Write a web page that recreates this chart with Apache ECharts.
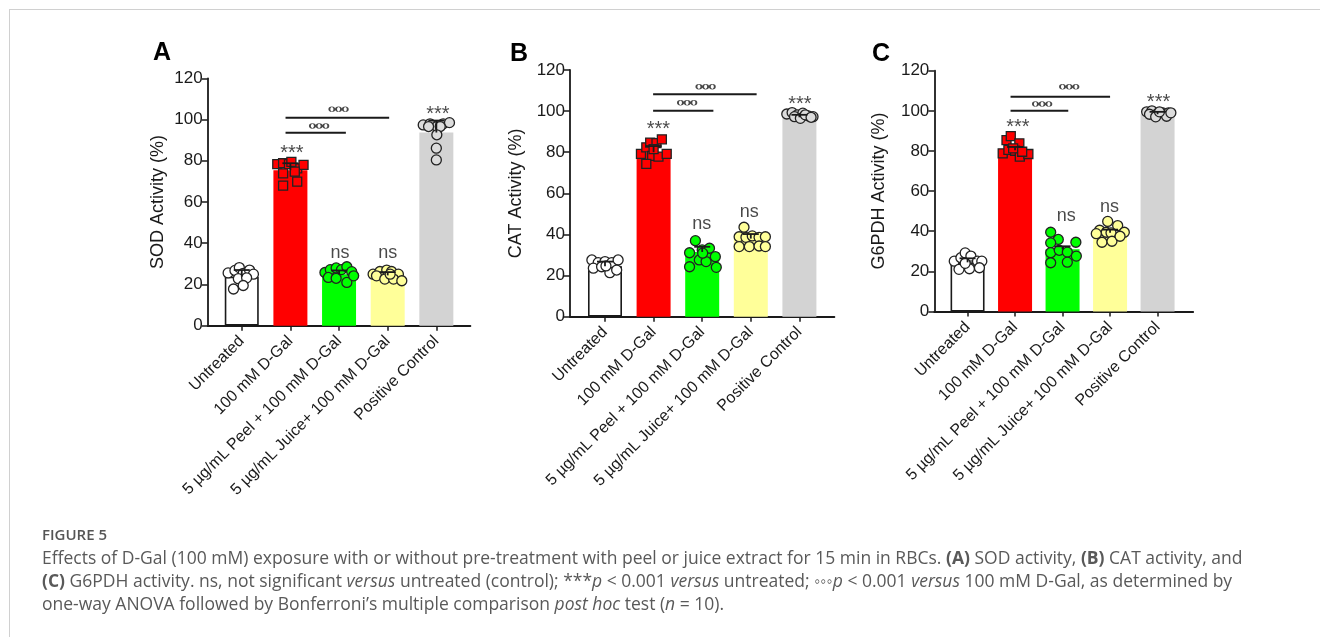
<!DOCTYPE html>
<html>
<head>
<meta charset="utf-8">
<title>Figure 5</title>
<script src="https://cdn.jsdelivr.net/npm/echarts@6/dist/echarts.min.js"></script>
<style>
html, body { margin: 0; padding: 0; background: #fff; }
#frame { position: absolute; left: 9px; top: 9px; width: 1311px; height: 628px; border-left: 1px solid #d0d0d0; border-top: 1px solid #d0d0d0; }
#chart { position: absolute; left: 0; top: 0; width: 1320px; height: 637px; }
</style>
</head>
<body>
<div id="frame"></div>
<div id="chart"></div>
<script>
// groups on the x axis (same for all panels)
var groups = ['Untreated', '100 mM D-Gal', '5 µg/mL Peel + 100 mM D-Gal', '5 µg/mL Juice+ 100 mM D-Gal', 'Positive Control'];
var barColors = ['#ffffff', '#ff0000', '#00ff00', '#ffff99', '#d3d3d3'];

// A - SOD
var sodMean = [23.8, 75.4, 24.9, 24.4, 93.7];
var sodSdTop = [27.0, 78.8, 26.8, 26.0, 99.5];
var sodPoints = [
  [[-0.28,25.6],[-0.14,26.8],[-0.05,28.2],[0.03,25.4],[0.16,27],[0.24,25],[-0.07,22.8],[0.1,23.2],[-0.17,17.8],[0.03,19.5]],
  [[-0.27,78.4],[-0.15,78.8],[-0.03,78.4],[0.14,76.3],[0.27,78],[-0.15,73.9],[0.09,74.7],[-0.15,67.9],[0.14,69.9],[0.02,79.5]],
  [[-0.29,25.8],[-0.18,27.2],[-0.06,28],[0.05,27.2],[0.16,28.6],[0.26,26.2],[-0.22,23.4],[-0.06,23],[0.16,21],[0.3,24.2]],
  [[-0.3,25],[-0.16,26.3],[-0.02,27],[0.08,26.3],[0.22,25],[-0.23,24.2],[-0.06,22.6],[0.12,22.6],[0.29,21.8],[0.05,25]],
  [[-0.27,97.4],[-0.13,97.9],[0.01,96.6],[0.14,97.9],[0.27,98.5],[-0.16,96.6],[0.08,96.6],[0.01,92.6],[0,86.1],[0,80.4]]
];
var sodBrackets = [[0.9, 2.14, 93.6], [0.9, 3.03, 100.9]];
var sodRings = [[1.59, 96.9], [1.99, 105]];
var sodMarks = [[1.03, 86.1, '***'], [4.03, 105, '***'], [2.02, 35.1, 'ns'], [3.0, 35.1, 'ns']];

// B - CAT
var catMean = [24.6, 80.0, 31.5, 38.0, 97.0];
var catSdTop = [26.8, 83.0, 34.0, 40.2, 98.2];
var catPoints = [
  [[-0.27,27.6],[-0.14,26.3],[0,26.8],[0.14,26.3],[0.27,27.6],[-0.24,23.6],[-0.07,24.3],[0.1,21.4],[0.24,22.7],[0.02,24.7]],
  [[-0.26,79.2],[-0.15,82.4],[-0.07,84.7],[0.06,84.4],[0.17,86.3],[-0.03,78.2],[0.1,77.9],[0.27,79.2],[-0.15,74.3],[0,81.5]],
  [[-0.26,31.1],[-0.14,37],[0,32.5],[0.15,33.3],[0.27,29.2],[-0.26,24.3],[-0.06,27.6],[0.08,26.8],[0.29,24],[0.01,30.9]],
  [[-0.14,43.5],[-0.24,38.9],[-0.1,38.6],[0.03,39.3],[0.17,38.6],[0.3,38.9],[-0.24,34.1],[-0.03,34.1],[0.17,34.4],[0.3,34.1]],
  [[-0.26,98.6],[-0.15,99.3],[-0.04,98.2],[0.07,99],[0.18,97.7],[0.28,97.3],[-0.1,97.3],[0.02,96.5],[0.12,98.2],[0.24,97]]
];
var catBrackets = [[0.99, 2.23, 100.2], [0.99, 3.12, 108.2]];
var catRings = [[1.69, 104.1], [2.07, 111.9]];
var catMarks = [[1.1, 93.6, '***'], [4.01, 105.8, '***'], [1.99, 45, 'ns'], [2.97, 50.8, 'ns']];

// C - G6PDH
var g6pdhMean = [24.5, 80.3, 31.0, 39.2, 98.3];
var g6pdhSdTop = [26.5, 82.0, 32.5, 40.8, 99.5];
var g6pdhPoints = [
  [[-0.28,25.1],[-0.14,26.8],[-0.05,29.2],[0.07,27.6],[0.21,25.1],[0.3,25.1],[-0.18,21],[0.04,21.3],[0.25,21.8],[-0.05,24]],
  [[-0.18,85.4],[-0.09,87.4],[0.09,83.8],[-0.26,78.8],[-0.14,80.5],[0,80.1],[0.1,77.2],[0.28,78.5],[-0.04,81.3],[0.15,79.6]],
  [[-0.25,39.5],[-0.09,35.9],[-0.25,34.2],[0.28,34.5],[-0.25,29.3],[-0.07,30.5],[0.1,29.6],[0.29,27.6],[-0.25,24.3],[0.1,24.6]],
  [[-0.05,44.9],[-0.22,40.5],[-0.08,39.5],[0.16,42.8],[0.3,39.5],[0.02,39.2],[-0.17,34.5],[0.04,35],[0.21,37.5],[-0.29,38.8]],
  [[-0.23,99.5],[-0.12,100],[0,98.7],[0.11,99],[0.23,99],[-0.17,98.3],[-0.04,97],[0.19,97.3],[0.04,99.5],[0.28,99]]
];
var g6pdhBrackets = [[0.905, 2.12, 100], [0.905, 3.0, 107]];
var g6pdhRings = [[1.57, 103.4], [2.14, 112]];
var g6pdhMarks = [[1.06, 94.1, '***'], [4.02, 106.7, '***'], [2.08, 47.7, 'ns'], [2.99, 52.2, 'ns']];

var yTicks = { min: 0, max: 120, interval: 20 };
var tickValues = [0, 1, 2, 3, 4];

var FONT = 'Liberation Sans';
var CAP = 'Open Sans';
var INK = '#1a1a1a';
var ringPath = 'path://M0,2.5a2.5,2.5 0 1,0 5,0a2.5,2.5 0 1,0 -5,0M6.7,2.5a2.5,2.5 0 1,0 5,0a2.5,2.5 0 1,0 -5,0M13.4,2.5a2.5,2.5 0 1,0 5,0a2.5,2.5 0 1,0 -5,0';

var panels = [
  { name: 'SOD Activity (%)', mean: sodMean, sd: sodSdTop, pts: sodPoints, br: sodBrackets, rings: sodRings, marks: sodMarks,
    grid: { left: 207.7, top: 78.3, width: 262.7, height: 247.4 }, xmin: -0.7, xmax: 4.7, gap: 41 },
  { name: 'CAT Activity (%)', mean: catMean, sd: catSdTop, pts: catPoints, br: catBrackets, rings: catRings, marks: catMarks,
    grid: { left: 570, top: 70, width: 264.4, height: 246.7 }, xmin: -0.72, xmax: 4.72, gap: 45 },
  { name: 'G6PDH Activity (%)', mean: g6pdhMean, sd: g6pdhSdTop, pts: g6pdhPoints, br: g6pdhBrackets, rings: g6pdhRings, marks: g6pdhMarks,
    grid: { left: 934.3, top: 70.7, width: 258.9, height: 240.8 }, xmin: -0.7, xmax: 4.75, gap: 46 }
];

var grids = [], xAxes = [], yAxes = [], series = [];

function errorItem(params, api) {
  var x = api.value(0);
  var p0 = api.coord([x, api.value(2)]);
  var p1 = api.coord([x, api.value(1)]);
  var st = { stroke: INK, lineWidth: 1.8 };
  return { type: 'group', children: [
    { type: 'line', shape: { x1: p0[0], y1: p0[1], x2: p1[0], y2: p1[1] }, style: st },
    { type: 'line', shape: { x1: p1[0] - 8, y1: p1[1], x2: p1[0] + 8, y2: p1[1] }, style: st }
  ] };
}

function bracketItem(params, api) {
  var a = api.coord([api.value(0), api.value(2)]);
  var b = api.coord([api.value(1), api.value(2)]);
  return { type: 'line', shape: { x1: a[0], y1: a[1], x2: b[0], y2: b[1] }, style: { stroke: INK, lineWidth: 2 } };
}

panels.forEach(function (p, k) {
  grids.push(p.grid);
  xAxes.push({
    type: 'value', gridIndex: k, min: p.xmin, max: p.xmax,
    axisLine: { show: true, onZero: false, lineStyle: { color: INK, width: 1.8 } },
    axisTick: { show: true, customValues: tickValues, length: 5, lineStyle: { color: INK, width: 1.5 } },
    axisLabel: { customValues: tickValues, rotate: 45, margin: 13, fontSize: 16, color: INK, fontFamily: FONT,
      formatter: function (v) { return groups[Math.round(v)]; } },
    splitLine: { show: false }
  });
  yAxes.push({
    type: 'value', gridIndex: k, min: yTicks.min, max: yTicks.max, interval: yTicks.interval,
    name: p.name, nameLocation: 'middle', nameGap: p.gap,
    nameTextStyle: { fontSize: 18, color: INK, fontFamily: FONT },
    axisLine: { show: true, onZero: false, lineStyle: { color: INK, width: 1.8 } },
    axisTick: { show: true, length: 6, lineStyle: { color: INK, width: 1.5 } },
    axisLabel: { fontSize: 17, color: INK, fontFamily: FONT, margin: 5 },
    splitLine: { show: false }
  });

  series.push({
    type: 'bar', xAxisIndex: k, yAxisIndex: k, barWidth: 34, z: 1,
    data: p.mean.map(function (m, i) {
      return { value: [i, m], itemStyle: i === 0
        ? { color: barColors[i], borderColor: INK, borderWidth: 1.6 }
        : { color: barColors[i] } };
    })
  });

  p.pts.forEach(function (grp, i) {
    series.push({
      type: 'scatter', xAxisIndex: k, yAxisIndex: k, z: 3,
      symbol: i === 1 ? 'rect' : 'circle', symbolSize: i === 1 ? 9 : 10,
      itemStyle: { color: barColors[i] === '#d3d3d3' ? '#dcdcdc' : barColors[i], borderColor: '#222', borderWidth: 1.3, opacity: 1 },
      data: grp.map(function (d) { return [i + d[0], d[1]]; })
    });
  });

  series.push({
    type: 'custom', xAxisIndex: k, yAxisIndex: k, z: 4, renderItem: errorItem,
    encode: { x: 0, y: 1 },
    data: p.mean.map(function (m, i) { return [i, p.sd[i], m]; })
  });

  series.push({
    type: 'custom', xAxisIndex: k, yAxisIndex: k, z: 4, renderItem: bracketItem,
    encode: { x: [0, 1], y: 2 }, data: p.br
  });

  series.push({
    type: 'scatter', xAxisIndex: k, yAxisIndex: k, z: 4,
    symbol: ringPath, symbolSize: [18.4, 5],
    itemStyle: { color: '#ffffff', borderColor: INK, borderWidth: 1 },
    data: p.rings
  });

  series.push({
    type: 'scatter', xAxisIndex: k, yAxisIndex: k, z: 4, symbolSize: 0,
    data: p.marks.map(function (m) {
      var stars = m[2] !== 'ns';
      return { value: [m[0], m[1]], name: m[2],
        label: { show: true, position: 'inside', formatter: m[2],
          fontSize: stars ? 20 : 18, color: INK, fontFamily: FONT,
          offset: stars ? [0, 5] : [0, 0] } };
    })
  });
});

var chart = echarts.init(document.getElementById('chart'), null, { renderer: 'canvas' });

var capT = '17.5px ' + CAP, capB = 'bold 17.5px ' + CAP, capI = 'italic 17.5px ' + CAP;
var capRich = {
  t: { font: capT, fill: '#595959' },
  b: { font: capB, fill: '#595959' },
  i: { font: capI, fill: '#595959' }
};

chart.setOption({
  backgroundColor: 'transparent',
  animation: false,
  title: [
    { text: 'A', left: 148, top: 36, textStyle: { fontSize: 25, fontWeight: 'bold', color: '#000', fontFamily: FONT } },
    { text: 'B', left: 505, top: 37, textStyle: { fontSize: 25, fontWeight: 'bold', color: '#000', fontFamily: FONT } },
    { text: 'C', left: 867, top: 37, textStyle: { fontSize: 25, fontWeight: 'bold', color: '#000', fontFamily: FONT } }
  ],
  grid: grids,
  xAxis: xAxes,
  yAxis: yAxes,
  series: series,
  graphic: [
    { type: 'text', left: 42, top: 528, style: { text: 'FIGURE 5', font: '600 15px ' + CAP, fill: '#555' } },
    { type: 'text', left: 42, top: 550, style: {
      text: '{t|Effects of D-Gal (100 mM) exposure with or without pre-treatment with peel or juice extract for 15 min in RBCs. }{b|(A)}{t| SOD activity, }{b|(B)}{t| CAT activity, and}',
      rich: capRich } },
    { type: 'text', left: 42, top: 573, style: {
      text: '{b|(C)}{t| G6PDH activity. ns, not significant }{i|versus}{t| untreated (control); ***}{i|p}{t| < 0.001 }{i|versus}{t| untreated; ◦◦◦}{i|p}{t| < 0.001 }{i|versus}{t| 100 mM D-Gal, as determined by}',
      rich: capRich } },
    { type: 'text', left: 42, top: 596, style: {
      text: '{t|one-way ANOVA followed by Bonferroni’s multiple comparison }{i|post hoc}{t| test (}{i|n}{t| = 10).}',
      rich: capRich } }
  ]
});
</script>
</body>
</html>
